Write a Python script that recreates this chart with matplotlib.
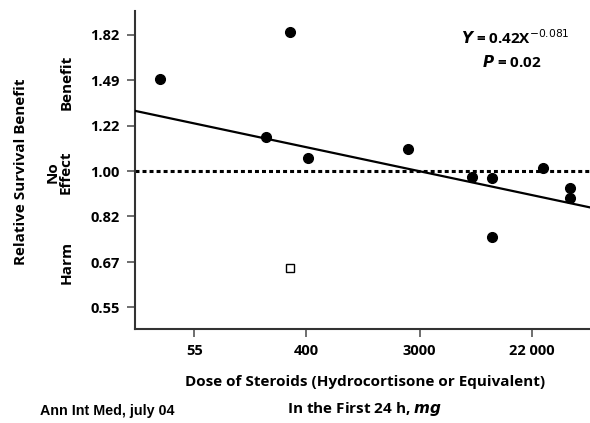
import numpy as np
import matplotlib
matplotlib.use("Agg")
import matplotlib.pyplot as plt

# Steroid dose (mg, first 24 h) and relative survival benefit per trial
dose = [30, 300, 198, 412, 2420, 7640, 10800, 26600, 43000, 43000, 10800]
benefit = [1.50, 1.84, 1.16, 1.06, 1.10, 0.976, 0.972, 1.016, 0.927, 0.89, 0.75]
# Trial shown with an open marker
open_dose = [298]
open_benefit = [0.655]

# Fitted log-log regression: ln(Y) = a + b ln(X)
fit_a = 0.42
fit_b = -0.0525

x_ticks = [55, 400, 3000, 22000]
x_tick_labels = ["55", "400", "3000", "22 000"]
y_ticks = [0.55, 0.67, 0.82, 1.00, 1.22, 1.49, 1.82]
y_tick_labels = ["0.55", "0.67", "0.82", "1.00", "1.22", "1.49", "1.82"]

plt.rcParams['font.family'] = ['Open Sans', 'DejaVu Sans']

fig = plt.figure(figsize=(5.9, 4.23), dpi=100)
ax = fig.add_axes([0.2288, 0.222, 0.7712, 0.752])
ax.set_xscale("log")
ax.set_yscale("log")
ax.set_xlim(19.2, 61600)
ax.set_ylim(0.50, 2.02)

# no-effect reference line
ax.axhline(1.0, color="black", lw=2.2, linestyle=(0, (1.3, 1.0)), zorder=2)

# regression line
xs = np.exp(np.linspace(np.log(19.2), np.log(61600), 50))
ax.plot(xs, np.exp(fit_a + fit_b * np.log(xs)), color="black", lw=1.6, zorder=3)

ax.plot(dose, benefit, "o", color="black", ms=7, zorder=4)
ax.plot(open_dose, open_benefit, "s", mfc="white", mec="black", mew=1.0, ms=6, zorder=4)

ax.set_xticks(x_ticks)
ax.set_xticklabels(x_tick_labels)
ax.set_yticks(y_ticks)
ax.set_yticklabels(y_tick_labels)
ax.xaxis.set_minor_locator(matplotlib.ticker.NullLocator())
ax.yaxis.set_minor_locator(matplotlib.ticker.NullLocator())
ax.tick_params(axis="both", direction="out", length=6, width=1.2, color="#555555",
               labelsize=10.5, pad=5)
for lab in ax.get_xticklabels() + ax.get_yticklabels():
    lab.set_fontweight("bold")

for s in ["top", "right"]:
    ax.spines[s].set_visible(False)
for s in ["left", "bottom"]:
    ax.spines[s].set_color("#333333")
    ax.spines[s].set_linewidth(1.5)

# equation annotation
fig.text(515 / 590, 1 - 38 / 423, r"$\boldsymbol{Y}$ = 0.42X$^{-0.081}$", ha="center",
         va="center", fontsize=11, fontweight="bold")
fig.text(512 / 590, 1 - 62 / 423, r"$\boldsymbol{P}$ = 0.02", ha="center", va="center",
         fontsize=11, fontweight="bold")

# y-axis labels
fig.text(21 / 590, 1 - 172 / 423, "Relative Survival Benefit", rotation=90,
         ha="center", va="center", fontsize=11, fontweight="bold")
fig.text(67 / 590, 1 - 82 / 423, "Benefit", rotation=90, ha="center", va="center",
         fontsize=11, fontweight="bold")
fig.text(59 / 590, 1 - 172 / 423, "No\nEffect", rotation=90, ha="center", va="center",
         fontsize=11, fontweight="bold", linespacing=0.9)
fig.text(67 / 590, 1 - 262 / 423, "Harm", rotation=90, ha="center", va="center",
         fontsize=11, fontweight="bold")

# x-axis labels
fig.text(365 / 590, 1 - 382 / 423, "Dose of Steroids (Hydrocortisone or Equivalent)",
         ha="center", va="center", fontsize=11, fontweight="bold")
fig.text(364 / 590, 1 - 409 / 423, r"In the First 24 h, $\boldsymbol{mg}$",
         ha="center", va="center", fontsize=11, fontweight="bold")

fig.text(40 / 590, 1 - 411 / 423, "Ann Int Med, july 04", ha="left", va="center",
         fontsize=10.3, fontweight="bold", family=["Liberation Sans", "DejaVu Sans"])

fig.savefig("out.png", dpi=100)
